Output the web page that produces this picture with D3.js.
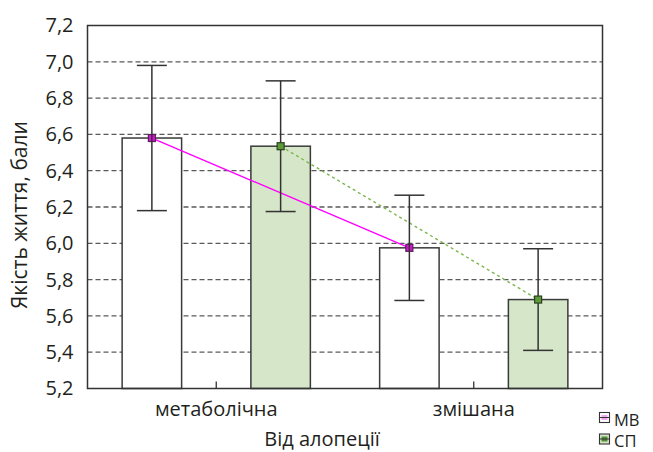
<!DOCTYPE html>
<html>
<head>
<meta charset="utf-8">
<script src="https://cdn.jsdelivr.net/npm/d3@7"></script>
<style>
  html, body { margin: 0; padding: 0; background: #fff; }
  svg { display: block; }
  text { font-family: "Open Sans", "Noto Sans", sans-serif; fill: #231f20; }
</style>
</head>
<body>
<svg id="chart" width="653" height="452"></svg>
<script>
// Alopecia type groups and the two study groups
const categories = ["метаболічна", "змішана"];
const series = ["МВ", "СП"];

// Mean quality-of-life score and error half-width per category
const meansMB = [6.58, 5.975];
const errMB = [0.40, 0.29];
const meansSP = [6.535, 5.69];
const errSP = [0.36, 0.28];

const yTicks = [5.2, 5.4, 5.6, 5.8, 6.0, 6.2, 6.4, 6.6, 6.8, 7.0, 7.2];
const yDomain = [5.2, 7.2];

const yTitle = "Якість життя, бали";
const xTitle = "Від алопеції";

const seriesData = [
  { name: series[0], means: meansMB, errs: errMB },
  { name: series[1], means: meansSP, errs: errSP }
];

const style = {
  МВ: { barFill: "#ffffff", line: "#ff00ff", dash: null, marker: "#d616d6", markerStroke: "#5b1f5b", legendInner: "#f3a6f0" },
  СП: { barFill: "#d5e6c9", line: "#7cb74e", dash: "3,3", marker: "#5d9b3a", markerStroke: "#2c4220", legendInner: "#4f8f35" }
};

const svg = d3.select("#chart");
const plot = { left: 87.5, right: 602.5, top: 25.5, bottom: 388.5 };
const labelSize = "20px";

const x = d3.scaleBand().domain(categories).range([plot.left, plot.right]).padding(0);
const xs = d3.scalePoint().domain(series).range([0, x.bandwidth()]).padding(0.5);
const y = d3.scaleLinear().domain(yDomain).range([plot.bottom, plot.top]);
const barW = x.bandwidth() * 0.231;
const fmt = v => d3.format(".1f")(v).replace(".", ",");

// Dashed horizontal grid
svg.append("g")
  .selectAll("line")
  .data(yTicks.filter(t => t > yDomain[0] && t < yDomain[1]))
  .join("line")
  .attr("x1", plot.left).attr("x2", plot.right)
  .attr("y1", d => y(d)).attr("y2", d => y(d))
  .attr("stroke", "#5a5a5a").attr("stroke-width", 1.3)
  .attr("stroke-dasharray", "5,3");

// Y axis labels
const yAxis = d3.axisLeft(y).tickValues(yTicks).tickFormat(fmt).tickSize(0).tickPadding(14);
const gy = svg.append("g").attr("transform", `translate(${plot.left},0)`).call(yAxis);
gy.select(".domain").remove();
gy.selectAll("text").style("font-size", labelSize).style("font-family", null).attr("fill", "#231f20");

// Bars
seriesData.forEach(s => {
  svg.append("g")
    .selectAll("rect")
    .data(categories.map((c, i) => ({ c, v: s.means[i] })))
    .join("rect")
    .attr("x", d => x(d.c) + xs(s.name) - barW / 2)
    .attr("y", d => y(d.v))
    .attr("width", barW)
    .attr("height", d => y(yDomain[0]) - y(d.v))
    .attr("fill", style[s.name].barFill)
    .attr("stroke", "#3a3a3a").attr("stroke-width", 1.5);
});

// Lines joining the means of each series
seriesData.forEach(s => {
  const line = d3.line()
    .x((d, i) => x(categories[i]) + xs(s.name))
    .y(d => y(d));
  svg.append("path")
    .datum(s.means)
    .attr("d", line)
    .attr("fill", "none")
    .attr("stroke", style[s.name].line)
    .attr("stroke-width", 1.4)
    .attr("stroke-dasharray", style[s.name].dash);
});

// Error bars and mean markers
const capW = 30, mk = 7;
seriesData.forEach(s => {
  const g = svg.append("g");
  const pts = categories.map((c, i) => ({ cx: x(c) + xs(s.name), m: s.means[i], e: s.errs[i] }));
  const drawMarkers = () => g.selectAll(null).data(pts).join("rect")
    .attr("x", d => d.cx - mk / 2).attr("y", d => y(d.m) - mk / 2)
    .attr("width", mk).attr("height", mk)
    .attr("fill", style[s.name].marker)
    .attr("stroke", style[s.name].markerStroke).attr("stroke-width", 1.2);
  const drawErr = () => {
    g.selectAll(null).data(pts).join("line")
      .attr("x1", d => d.cx).attr("x2", d => d.cx)
      .attr("y1", d => y(d.m + d.e)).attr("y2", d => y(d.m - d.e))
      .attr("stroke", "#333").attr("stroke-width", 1.5);
    ["+", "-"].forEach(sign => {
      g.selectAll(null).data(pts).join("line")
        .attr("x1", d => d.cx - capW / 2).attr("x2", d => d.cx + capW / 2)
        .attr("y1", d => y(sign === "+" ? d.m + d.e : d.m - d.e))
        .attr("y2", d => y(sign === "+" ? d.m + d.e : d.m - d.e))
        .attr("stroke", "#333").attr("stroke-width", 1.5);
    });
  };
  if (s.name === series[0]) { drawMarkers(); drawErr(); }
  else { drawErr(); drawMarkers(); }
});

// Plot frame
svg.append("rect")
  .attr("x", plot.left).attr("y", plot.top)
  .attr("width", plot.right - plot.left).attr("height", plot.bottom - plot.top)
  .attr("fill", "none").attr("stroke", "#333").attr("stroke-width", 1.5);

// Category ticks and labels
const xAxis = d3.axisBottom(x).tickSize(0).tickPadding(13);
const gx = svg.append("g").attr("transform", `translate(0,${plot.bottom})`).call(xAxis);
gx.select(".domain").remove();
gx.selectAll("text").style("font-size", labelSize).style("font-family", null).attr("fill", "#231f20");
svg.append("g").selectAll("line").data(categories).join("line")
  .attr("x1", d => x(d) + x.bandwidth() / 2).attr("x2", d => x(d) + x.bandwidth() / 2)
  .attr("y1", plot.bottom).attr("y2", plot.bottom - 7)
  .attr("stroke", "#333").attr("stroke-width", 1.3);

// Axis titles
svg.append("text")
  .attr("transform", "translate(27,215) rotate(-90)")
  .attr("text-anchor", "middle")
  .style("font-size", "21px")
  .text(yTitle);
svg.append("text")
  .attr("x", 322).attr("y", 446)
  .attr("text-anchor", "middle")
  .style("font-size", labelSize)
  .text(xTitle);

// Legend
const lg = svg.append("g");
series.forEach((name, i) => {
  const yy = 412 + i * 21.5;
  lg.append("rect").attr("x", 599.5).attr("y", yy + 0.5).attr("width", 10).attr("height", 10)
    .attr("fill", i === 0 ? "#ffffff" : "#d5e6c9").attr("stroke", "#333").attr("stroke-width", 1.1);
  lg.append("rect").attr("x", 601.5).attr("y", yy + 3).attr("width", 6).attr("height", 5)
    .attr("fill", style[name].legendInner);
  lg.append("line").attr("x1", 599.5).attr("x2", 609.5).attr("y1", yy + 5.5).attr("y2", yy + 5.5)
    .attr("stroke", "#333").attr("stroke-width", 1);
  lg.append("text").attr("x", 614).attr("y", yy + 13.5)
    .style("font-size", "16.5px").text(name);
});
</script>
</body>
</html>
